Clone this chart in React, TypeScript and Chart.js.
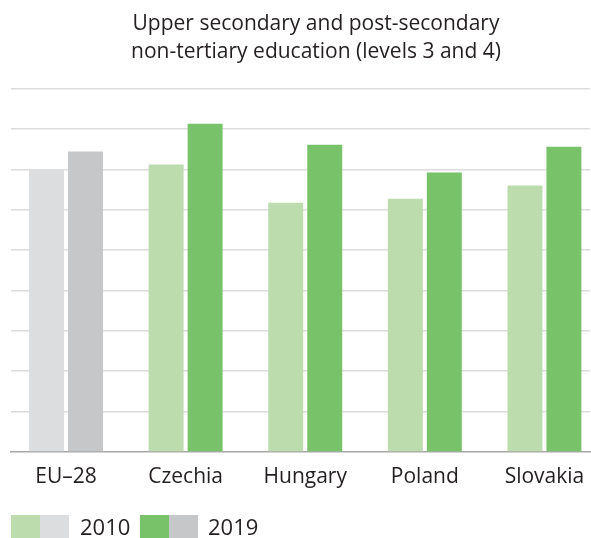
import React, { useEffect, useRef } from "react";
import { Chart, registerables } from "chart.js";

Chart.register(...registerables);

const categories = ["EU\u201328", "Czechia", "Hungary", "Poland", "Slovakia"];
const values2010 = [70.0, 71.2, 61.7, 62.7, 66.0];
const values2019 = [74.4, 81.3, 76.1, 69.2, 75.6];
const colors2010 = ["#dcdddf", "#bddcad", "#bddcad", "#bddcad", "#bddcad"];
const colors2019 = ["#c6c7c9", "#78c369", "#78c369", "#78c369", "#78c369"];
const yTicks = [0, 10, 20, 30, 40, 50, 60, 70, 80, 90];
const titleLines = ["Upper secondary and post-secondary", "non-tertiary education (levels 3 and 4)"];
const legendLabels = ["2010", "2019"];

const FONT = "'Open Sans', sans-serif";
const TEXT = "#231f20";

export default function App() {
  const ref = useRef<HTMLCanvasElement | null>(null);

  useEffect(() => {
    if (!ref.current) return;
    const chart = new Chart(ref.current, {
      type: "bar",
      data: {
        datasets: [
          {
            label: legendLabels[0],
            data: values2010.map((v, i) => ({ x: i, y: v })),
            backgroundColor: colors2010,
            borderWidth: 0,
          },
          {
            label: legendLabels[1],
            data: values2019.map((v, i) => ({ x: i, y: v })),
            backgroundColor: colors2019,
            borderWidth: 0,
          },
        ],
      },
      options: {
        animation: false,
        responsive: false,
        maintainAspectRatio: false,
        layout: { padding: { left: 11, right: 1, top: 88.5, bottom: 36 } },
        datasets: { bar: { categoryPercentage: 0.652, barPercentage: 0.897 } },
        plugins: {
          legend: { display: false },
          title: { display: false },
          tooltip: { enabled: false },
        },
        scales: {
          x: {
            type: "linear",
            offset: false,
            min: -0.46,
            max: 4.381,
            afterBuildTicks: (s: any) => {
              s.ticks = categories.map((_, i) => ({ value: i }));
            },
            afterFit: (s: any) => {
              s.height = 50;
              s.paddingLeft = 0;
              s.paddingRight = 0;
            },
            grid: { display: false, drawTicks: false, offset: false },
            border: { display: true, color: "#a7a7a7", width: 1.5 },
            ticks: {
              autoSkip: false,
              maxRotation: 0,
              padding: 12,
              color: TEXT,
              font: { family: FONT, size: 21 },
              callback: (v: any) => categories[Math.round(Number(v))] ?? "",
            },
          },
          y: {
            min: yTicks[0],
            max: yTicks[yTicks.length - 1],
            afterBuildTicks: (s: any) => {
              s.ticks = yTicks.map((v) => ({ value: v }));
            },
            afterFit: (s: any) => {
              s.width = 0;
              s.paddingTop = 0;
              s.paddingBottom = 0;
            },
            border: { display: false },
            grid: {
              drawTicks: false,
              lineWidth: 1.5,
              color: (c: any) => (c.tick && c.tick.value === 0 ? "rgba(0,0,0,0)" : "#dcdcdc"),
            },
            ticks: { display: false },
          },
        },
      },
    });
    return () => chart.destroy();
  }, []);

  const sw = (left: number, color: string) => (
    <div style={{ position: "absolute", left, top: 515, width: 29, height: 23, background: color }} />
  );

  return (
    <div style={{ position: "fixed", left: 0, top: 0, width: 591, height: 538, background: "#fff", fontFamily: FONT, color: TEXT }}>
      <canvas ref={ref} width={591} height={538} style={{ position: "absolute", left: 0, top: 0, width: 591, height: 538 }} />
      <div style={{ position: "absolute", left: 66, top: 8, width: 500, textAlign: "center", fontSize: 21, lineHeight: "28px" }}>
        {titleLines.map((t) => (
          <div key={t}>{t}</div>
        ))}
      </div>
      {sw(11, colors2010[1])}
      {sw(40, colors2010[0])}
      <div style={{ position: "absolute", left: 80, top: 510, fontSize: 22, lineHeight: "32px" }}>{legendLabels[0]}</div>
      {sw(140, colors2019[1])}
      {sw(169, colors2019[0])}
      <div style={{ position: "absolute", left: 208, top: 510, fontSize: 22, lineHeight: "32px" }}>{legendLabels[1]}</div>
    </div>
  );
}
